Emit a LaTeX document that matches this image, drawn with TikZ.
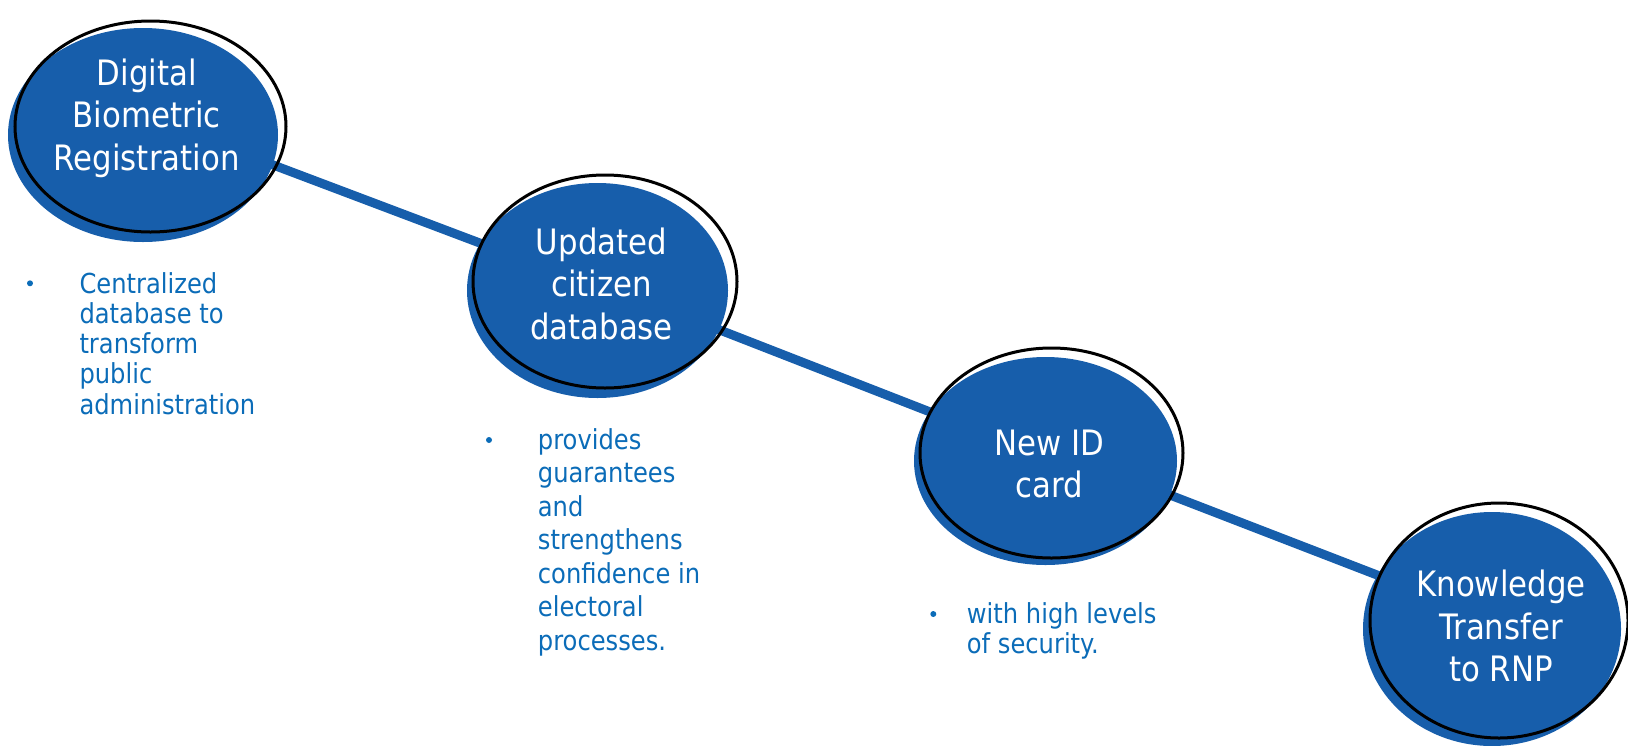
\documentclass[tikz,border=0pt]{standalone}
\usepackage{fontspec}
\setmainfont{DejaVu Sans}[FakeStretch=0.88]
\usetikzlibrary{shapes.geometric}
\definecolor{fillblue}{HTML}{175EAB}
\definecolor{txtblue}{HTML}{0B6CB8}
\begin{document}
\begin{tikzpicture}[x=1pt,y=-1pt,
  blob/.style={ellipse, fill=fillblue, inner sep=0pt},
  ring/.style={ellipse, draw=black, line width=3pt, inner sep=0pt},
  link/.style={draw=fillblue, line width=9pt},
  title/.style={text=white, align=center, font=\fontsize{35}{42.5}\selectfont, anchor=base, inner sep=0pt},
  note/.style={text=txtblue, align=left, anchor=base west, inner sep=0pt},
  dot/.style={circle, fill=txtblue, minimum size=6pt, inner sep=0pt}]
\useasboundingbox (0,0) rectangle (1628,745);

% connector end points
\coordinate (l1a) at (260,160);
\coordinate (l1b) at (493,248);
\coordinate (l2a) at (707,325);
\coordinate (l2b) at (943,417);
\coordinate (l3a) at (1157,490);
\coordinate (l3b) at (1390,580);
\draw[link] (l1a) -- (l1b);
\draw[link] (l2a) -- (l2b);
\draw[link] (l3a) -- (l3b);

% ellipses
\node[blob, minimum width=270pt, minimum height=214pt] (b1) at (143,135) {};
\node[ring, minimum width=271pt, minimum height=211pt] (e1) at (150.5,126.5) {};
\node[blob, minimum width=261pt, minimum height=215pt] (b2) at (597.5,290.5) {};
\node[ring, minimum width=264pt, minimum height=213pt] (e2) at (605,281.5) {};
\node[blob, minimum width=263pt, minimum height=208pt] (b3) at (1045.5,461) {};
\node[ring, minimum width=263pt, minimum height=210pt] (e3) at (1051.5,453) {};
\node[blob, minimum width=258pt, minimum height=234pt] (b4) at (1492,629) {};
\node[ring, minimum width=258pt, minimum height=235pt] (e4) at (1499,620.5) {};

% titles (anchor = baseline of last line)
\node[title] (t1) at (146.7,170) {Digital\\Biometric\\Registration};
\node[title] (t2) at (601.5,339) {Updated\\citizen\\database};
\node[title] (t3) at (1049.5,497.5) {New ID\\card};
\node[title] (t4) at (1501,681.7) {Knowledge\\Transfer\\to RNP};

% notes
\node[dot] (d1) at (30,283.3) {};
\node[note, font=\fontsize{27.5}{30.2}\selectfont] (n1) at (79.3,414) {Centralized\\database to\\transform\\public\\administration};
\node[dot] (d2) at (489,440) {};
\node[note, font=\fontsize{27.5}{33.5}\selectfont] (n2) at (537.7,650) {provides\\guarantees\\and\\strengthens\\confidence in\\electoral\\processes.};
\node[dot] (d3) at (933.3,614) {};
\node[note, font=\fontsize{27.5}{30}\selectfont] (n3) at (966.7,653.3) {with high levels\\of security.};
\end{tikzpicture}
\end{document}
